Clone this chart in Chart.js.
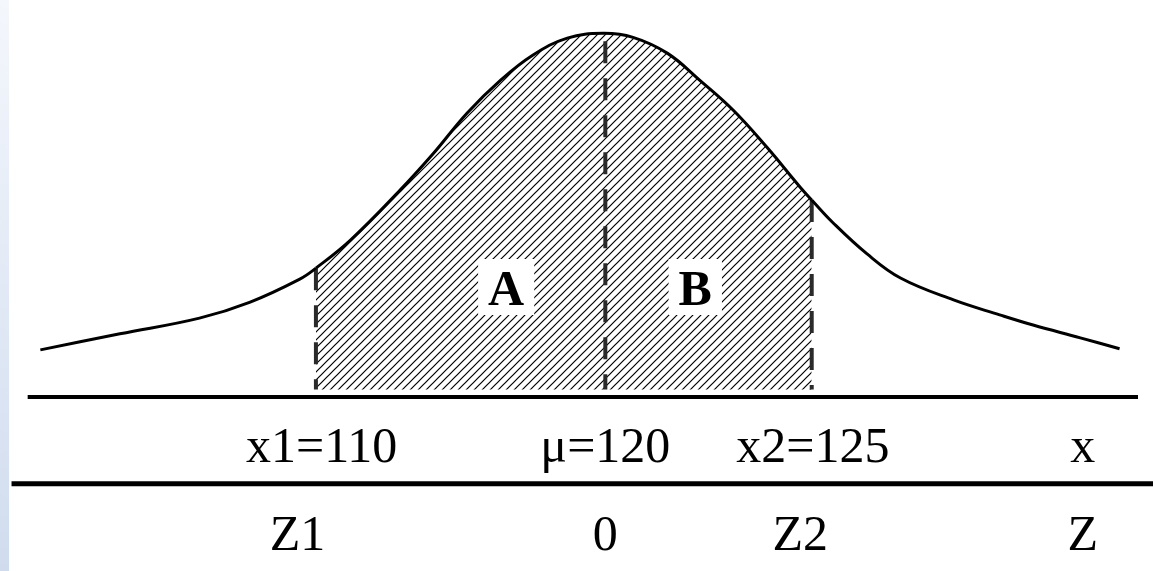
<!DOCTYPE html>
<html>
<head>
<meta charset="utf-8">
<script src="https://cdn.jsdelivr.net/npm/chart.js@4/dist/chart.umd.min.js"></script>
<style>
    html, body { margin: 0; padding: 0; background: #fff; }
    #wrap { position: relative; width: 1153px; height: 571px; }
    #strip { position: absolute; left: 0; top: 0; width: 9px; height: 571px;
             background: linear-gradient(#f4f7fc, #d0dcee); }
    #normalChart { position: absolute; left: 0; top: 0; }
</style>
</head>
<body>
<div id="wrap">
    <div id="strip"></div>
    <canvas id="normalChart" width="1153" height="571"></canvas>
</div>
<script>
// horizontal position (0-100 across the picture) and relative height of the bell curve
const curveX = [3.5, 10.4, 17.3, 21.7, 26.0, 27.4, 30.4, 34.7, 37.6, 40.5, 43.4, 46.2, 49.2, 52.3, 54.9,
    57.9, 60.7, 63.6, 66.5, 69.4, 70.4, 72.2, 75.2, 78.1, 82.7, 86.7, 89.6, 93.7, 97.1];
const curveY = [0.129, 0.173, 0.216, 0.260, 0.323, 0.353, 0.430, 0.567, 0.668, 0.778, 0.868, 0.937, 0.984, 0.997, 0.986,
    0.942, 0.868, 0.786, 0.685, 0.575, 0.540, 0.479, 0.392, 0.326, 0.266, 0.225, 0.197, 0.162, 0.132];

// dashed markers: x1, mu, x2
const markerX = [27.4, 52.5, 70.4];
const markerTop = [0.353, 0.975, 0.540];
const hatchBase = 0.02;

// the two horizontal axes (x row and Z row)
const axisY = [0, -0.238];
const axisFrom = [2.4, 1.0];
const axisTo = [98.7, 100];

// tick labels under each axis
const xTickLabels = ['x1=110', 'μ=120', 'x2=125', 'x'];
const xTickPos = [27.9, 52.5, 70.5, 93.9];
const zTickLabels = ['Z1', '0', 'Z2', 'Z'];
const zTickPos = [25.8, 52.5, 69.4, 93.9];
const rowY = [-0.178, -0.419];

// area names
const areaLabels = ['A', 'B'];
const areaPos = [43.9, 60.3];
const areaY = 0.252;

// diagonal "/" hatch
const makeHatch = () => {
    const c = document.createElement('canvas');
    c.width = 8; c.height = 8;
    const g = c.getContext('2d');
    g.strokeStyle = '#000';
    g.lineWidth = 1.2;
    g.beginPath();
    g.moveTo(0, 8); g.lineTo(8, 0);
    g.moveTo(-2, 2); g.lineTo(2, -2);
    g.moveTo(6, 10); g.lineTo(10, 6);
    g.stroke();
    return g.createPattern(c, 'repeat');
};
const hatch = makeHatch();
const x1 = markerX[0], x2 = markerX[2];

const datasets = [];

// bell curve, hatched between x1 and x2
datasets.push({
    data: curveX.map((x, i) => ({ x, y: curveY[i] })),
    borderColor: '#000',
    borderWidth: 3,
    pointRadius: 0,
    tension: 0.4,
    fill: { value: hatchBase },
    backgroundColor: 'rgba(0,0,0,0)',
    segment: {
        backgroundColor: ctx => (ctx.p0.parsed.x >= x1 - 0.01 && ctx.p1.parsed.x <= x2 + 0.01) ? hatch : 'rgba(0,0,0,0)'
    },
    order: 0
});

markerX.forEach((x, i) => {
    datasets.push({
        data: [{ x, y: markerTop[i] }, { x, y: hatchBase }],
        borderColor: '#2a2a2a',
        borderWidth: 4,
        borderDash: [22, 15],
        borderCapStyle: 'butt',
        pointRadius: 0,
        tension: 0,
        fill: false,
        order: 1
    });
});

axisY.forEach((y, i) => {
    datasets.push({
        data: [{ x: axisFrom[i], y }, { x: axisTo[i], y }],
        borderColor: '#000',
        borderWidth: i === 0 ? 4 : 5,
        pointRadius: 0,
        tension: 0,
        fill: false,
        order: 2
    });
});

const labelPlugin = {
    id: 'labels',
    afterDatasetsDraw(chart) {
        const { ctx, scales: { x, y } } = chart;
        ctx.save();
        ctx.fillStyle = '#000';
        ctx.textAlign = 'center';
        ctx.textBaseline = 'alphabetic';

        ctx.font = 'bold 50px "Liberation Serif"';
        areaLabels.forEach((t, i) => {
            const px = x.getPixelForValue(areaPos[i]);
            const py = y.getPixelForValue(areaY);
            const w = ctx.measureText(t).width;
            ctx.fillStyle = '#fff';
            ctx.fillRect(px - w / 2 - 10, py - 46, w + 20, 56);
            ctx.fillStyle = '#000';
            ctx.fillText(t, px, py);
        });

        ctx.font = '50px "Liberation Serif"';
        xTickLabels.forEach((t, i) => {
            ctx.fillText(t, x.getPixelForValue(xTickPos[i]), y.getPixelForValue(rowY[0]));
        });
        zTickLabels.forEach((t, i) => {
            ctx.fillText(t, x.getPixelForValue(zTickPos[i]), y.getPixelForValue(rowY[1]));
        });
        ctx.restore();
    }
};

new Chart(document.getElementById('normalChart'), {
    type: 'line',
    data: { datasets },
    options: {
        responsive: false,
        animation: false,
        layout: { padding: { top: 14, bottom: 10, left: 0, right: 0 } },
        scales: {
            x: { type: 'linear', min: 0, max: 100, display: false },
            y: { type: 'linear', min: -0.45, max: 1.05, display: false }
        },
        plugins: {
            legend: { display: false },
            tooltip: { enabled: false },
            filler: { drawTime: 'beforeDatasetsDraw' }
        },
        clip: false
    },
    plugins: [labelPlugin]
});
</script>
</body>
</html>
